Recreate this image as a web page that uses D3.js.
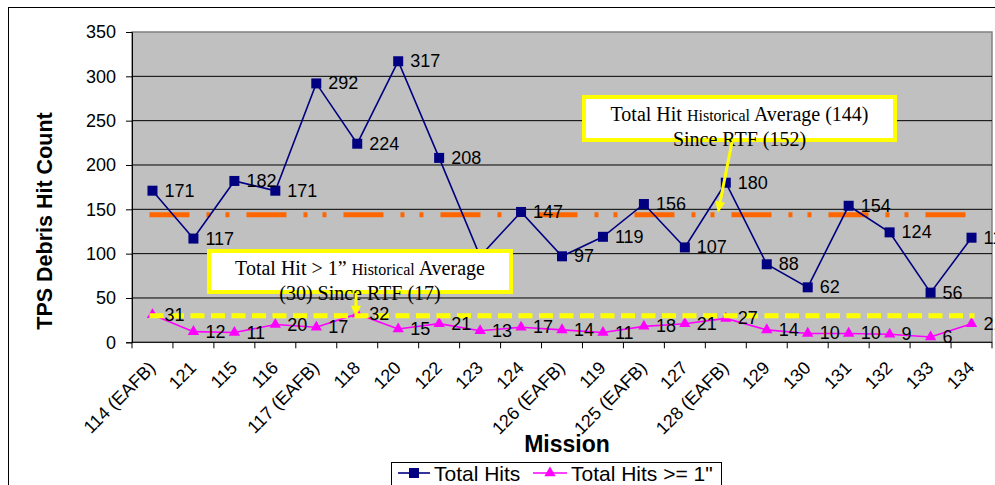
<!DOCTYPE html>
<html>
<head>
<meta charset="utf-8">
<script src="https://cdn.jsdelivr.net/npm/d3@7"></script>
<style>
  body { margin: 0; background: #fff; }
  svg { display: block; }
  text { font-family: Arial, "Liberation Sans", sans-serif; fill: #000; }
  .serif { font-family: "Times New Roman", "Liberation Serif", serif; }
</style>
</head>
<body>
<svg id="chart" width="995" height="485"></svg>
<script>
const missions = ["114 (EAFB)", "121", "115", "116", "117 (EAFB)", "118", "120", "122", "123", "124",
  "126 (EAFB)", "119", "125 (EAFB)", "127", "128 (EAFB)", "129", "130", "131", "132", "133", "134"];
const totalHits = [171, 117, 182, 171, 292, 224, 317, 208, 97, 147, 97, 119, 156, 107, 180, 88, 62, 154, 124, 56, 118];
const bigHits = [31, 12, 11, 20, 17, 32, 15, 21, 13, 17, 14, 11, 18, 21, 27, 14, 10, 10, 9, 6, 21];
const yTicks = [0, 50, 100, 150, 200, 250, 300, 350];
const totalAvg = 144;
const bigAvg = 30;

const svg = d3.select("#chart");
const plotL = 132, plotR = 992, plotT = 32, plotB = 342.3;

const x = d3.scaleBand().domain(missions).range([plotL, plotR]);
const cx = d => x(d) + x.bandwidth() / 2;
const y = d3.scaleLinear().domain([0, 350]).range([plotB, plotT]);

// outer chart frame
svg.append("rect")
  .attr("x", 8.5).attr("y", 7.5).attr("width", 1000).attr("height", 500)
  .attr("fill", "none").attr("stroke", "#000").attr("stroke-width", 1);

// plot area
svg.append("rect")
  .attr("x", plotL).attr("y", plotT).attr("width", plotR - plotL).attr("height", plotB - plotT)
  .attr("fill", "#c0c0c0").attr("stroke", "#808080").attr("stroke-width", 1.5);

// gridlines
svg.append("g").selectAll("line")
  .data(yTicks.filter(t => t > 0 && t < 350))
  .join("line")
  .attr("x1", plotL).attr("x2", plotR)
  .attr("y1", d => y(d)).attr("y2", d => y(d))
  .attr("stroke", "#000").attr("stroke-width", 1);

// y axis
const yAxis = svg.append("g")
  .attr("transform", `translate(${plotL},0)`)
  .call(d3.axisLeft(y).tickValues(yTicks).tickSize(6).tickPadding(10));
yAxis.select(".domain").attr("stroke", "#000");
yAxis.selectAll(".tick line").attr("stroke", "#000");
yAxis.selectAll(".tick text")
  .attr("font-size", 18).attr("font-family", "Arial, 'Liberation Sans', sans-serif").attr("fill", "#000");

// x axis line + ticks at category boundaries
svg.append("line")
  .attr("x1", plotL).attr("x2", plotR).attr("y1", plotB).attr("y2", plotB)
  .attr("stroke", "#000");
svg.append("g").selectAll("line")
  .data(missions.map(m => x(m)).concat([plotR]))
  .join("line")
  .attr("x1", d => d).attr("x2", d => d)
  .attr("y1", plotB).attr("y2", plotB + 6)
  .attr("stroke", "#000");

svg.append("g").selectAll("text")
  .data(missions)
  .join("text")
  .attr("transform", d => `translate(${cx(d) + 4},369) rotate(-45)`)
  .attr("text-anchor", "end")
  .attr("font-size", 18)
  .text(d => d);

// average line for total hits (drawn under the series)
const avgX1 = cx(missions[0]) - 3, avgX2 = cx(missions[missions.length - 1]) + 3;
svg.append("line")
  .attr("x1", avgX1).attr("x2", avgX2)
  .attr("y1", y(totalAvg)).attr("y2", y(totalAvg))
  .attr("stroke", "#ff6600").attr("stroke-width", 5)
  .attr("stroke-dasharray", "40 17 4 15 4 17");

// series
const line = d3.line().x((d, i) => cx(missions[i])).y(d => y(d));

svg.append("path").datum(totalHits)
  .attr("d", line).attr("fill", "none")
  .attr("stroke", "#000080").attr("stroke-width", 1.6);
svg.append("path").datum(bigHits)
  .attr("d", line).attr("fill", "none")
  .attr("stroke", "#ff00ff").attr("stroke-width", 1.6);

svg.append("g").selectAll("rect")
  .data(totalHits)
  .join("rect")
  .attr("x", (d, i) => cx(missions[i]) - 5)
  .attr("y", d => y(d) - 5)
  .attr("width", 10).attr("height", 10)
  .attr("fill", "#000080");

const tri = d3.symbol().type(d3.symbolTriangle).size(56);
svg.append("g").selectAll("path")
  .data(bigHits)
  .join("path")
  .attr("transform", (d, i) => `translate(${cx(missions[i])},${y(d)})`)
  .attr("d", tri)
  .attr("fill", "#ff00ff");

// average line for hits >= 1"
svg.append("line")
  .attr("x1", avgX1).attr("x2", avgX2)
  .attr("y1", y(bigAvg)).attr("y2", y(bigAvg))
  .attr("stroke", "#ffff00").attr("stroke-width", 5)
  .attr("stroke-dasharray", "14 6.5");

// data labels
svg.append("g").selectAll("text")
  .data(totalHits)
  .join("text")
  .attr("x", (d, i) => cx(missions[i]) + 12)
  .attr("y", d => y(d) + 6)
  .attr("font-size", 18)
  .text(d => d);
svg.append("g").selectAll("text")
  .data(bigHits)
  .join("text")
  .attr("x", (d, i) => cx(missions[i]) + 12)
  .attr("y", d => y(d) + 6)
  .attr("font-size", 18)
  .text(d => d);

// axis titles
svg.append("text")
  .attr("transform", "translate(52,221) rotate(-90)")
  .attr("text-anchor", "middle")
  .attr("font-size", 21.5).attr("font-weight", "bold")
  .text("TPS Debris Hit Count");
svg.append("text")
  .attr("x", 567).attr("y", 452)
  .attr("text-anchor", "middle")
  .attr("font-size", 23).attr("font-weight", "bold")
  .text("Mission");

// annotations
function callout(box, lines, arrow) {
  svg.append("rect")
    .attr("x", box[0]).attr("y", box[1]).attr("width", box[2]).attr("height", box[3])
    .attr("fill", "#fff").attr("stroke", "#ffff00").attr("stroke-width", 4);
  lines.forEach((parts, li) => {
    const t = svg.append("text")
      .attr("class", "serif")
      .attr("x", box[0] + box[2] / 2 + parts.dx)
      .attr("y", box[1] + 24 + li * 25)
      .attr("text-anchor", "middle");
    parts.spans.forEach(s => t.append("tspan").attr("font-size", s[1]).text(s[0]));
  });
  const [x1, y1, x2, y2] = arrow;
  const ang = Math.atan2(y2 - y1, x2 - x1);
  svg.append("line")
    .attr("x1", x1).attr("y1", y1)
    .attr("x2", x2 - 8 * Math.cos(ang)).attr("y2", y2 - 8 * Math.sin(ang))
    .attr("stroke", "#ffff00").attr("stroke-width", 3);
  const w = 5;
  const bx = x2 - 11 * Math.cos(ang), by = y2 - 11 * Math.sin(ang);
  svg.append("path")
    .attr("d", `M${x2},${y2}L${bx + w * Math.sin(ang)},${by - w * Math.cos(ang)}L${bx - w * Math.sin(ang)},${by + w * Math.cos(ang)}Z`)
    .attr("fill", "#ffff00");
}

callout([584, 97, 311, 43], [
  { dx: 0, spans: [["Total Hit ", 20], ["Historical", 16], [" Average (144)", 20]] },
  { dx: 0, spans: [["Since RTF (152)", 20]] }
], [732, 142, 718, y(totalAvg) - 2]);

callout([209, 251, 302, 41], [
  { dx: 0, spans: [["Total Hit > 1\u201d ", 20], ["Historical", 16], [" Average", 20]] },
  { dx: 0, spans: [["(30) Since RTF (17)", 20]] }
], [356, 293, 356, y(bigAvg) + 1]);

// legend
const lg = svg.append("g");
lg.append("rect")
  .attr("x", 391.5).attr("y", 462.5).attr("width", 330).attr("height", 30)
  .attr("fill", "#fff").attr("stroke", "#000").attr("stroke-width", 1);
lg.append("line").attr("x1", 398).attr("x2", 430).attr("y1", 473).attr("y2", 473)
  .attr("stroke", "#000080").attr("stroke-width", 1.6);
lg.append("rect").attr("x", 409).attr("y", 468).attr("width", 10).attr("height", 10).attr("fill", "#000080");
lg.append("text").attr("x", 434).attr("y", 481).attr("font-size", 21).text("Total Hits");
lg.append("line").attr("x1", 533).attr("x2", 567).attr("y1", 473).attr("y2", 473)
  .attr("stroke", "#ff00ff").attr("stroke-width", 1.6);
lg.append("path").attr("transform", "translate(550,473)").attr("d", tri).attr("fill", "#ff00ff");
lg.append("text").attr("x", 571).attr("y", 481).attr("font-size", 21).text("Total Hits >= 1\"");
</script>
</body>
</html>
